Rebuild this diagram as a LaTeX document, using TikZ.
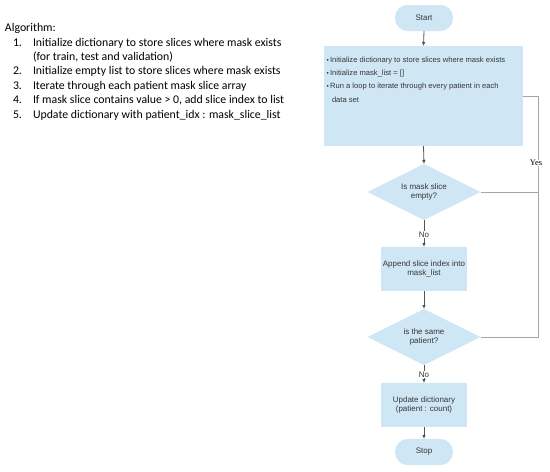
\documentclass[tikz,border=0pt]{standalone}
\usepackage{fontspec}
\setmainfont{Liberation Sans}
\newfontfamily\calib{Carlito}
\newfontfamily\timesf{Liberation Serif}
\usetikzlibrary{arrows.meta,shapes.geometric}
\definecolor{boxfill}{RGB}{207,230,245}
\definecolor{txt}{RGB}{55,55,55}
\definecolor{arr}{RGB}{85,85,85}
\definecolor{loopc}{RGB}{165,165,165}
\begin{document}
\begin{tikzpicture}[x=1pt,y=-1pt,
  every node/.style={text=txt, inner sep=0pt, outer sep=0pt},
  flow/.style={font=\fontsize{8}{9.5}\selectfont, align=center},
  term/.style={flow, fill=boxfill, rounded corners=12.5pt, minimum width=58pt, minimum height=26pt},
  proc/.style={flow, fill=boxfill, minimum width=86pt, minimum height=44pt},
  dec/.style={flow, fill=boxfill, diamond, aspect=2, minimum width=113pt, minimum height=56pt},
  btext/.style={font=\fontsize{7.6}{9}\selectfont, anchor=west},
  alg/.style={font=\calib\fontsize{11.8}{14}\selectfont, anchor=west, text=black},
  arrow/.style={draw=arr, line width=0.8pt, -{Latex[length=4pt,width=3.6pt]}},
  loopline/.style={draw=loopc, line width=0.8pt},
  lbl/.style={flow, fill=white, inner sep=0.8pt}
]
\useasboundingbox (0,0) rectangle (550,472);

% algorithm text
\node[alg] (algt) at (5,28) {Algorithm:};
\node[alg] (n1) at (13,43) {1.};
\node[alg] (t1) at (33,43) {Initialize dictionary to store slices where mask exists};
\node[alg] (t1b) at (33,57) {(for train, test and validation)};
\node[alg] (n2) at (13,71) {2.};
\node[alg] (t2) at (33,71) {Initialize empty list to store slices where mask exists};
\node[alg] (n3) at (13,86) {3.};
\node[alg] (t3) at (33,86) {Iterate through each patient mask slice array};
\node[alg] (n4) at (13,100) {4.};
\node[alg] (t4) at (33,100) {If mask slice contains value > 0, add slice index to list};
\node[alg] (n5) at (13,115) {5.};
\node[alg] (t5) at (33,115) {Update dictionary with patient\_idx : mask\_slice\_list};

% flowchart
\node[term] (start) at (424,18) {Start};
\node[proc, minimum width=199pt, minimum height=100pt] (init) at (423.5,96) {};
\node[btext] (b1) at (326.5,61) {{\fontsize{6.5}{7}\selectfont\textbullet}\,Initialize dictionary to store slices where mask exists};
\node[btext] (b2) at (326.5,74) {{\fontsize{6.5}{7}\selectfont\textbullet}\,Initialize mask\_list = []};
\node[btext] (b3) at (326.5,87) {{\fontsize{6.5}{7}\selectfont\textbullet}\,Run a loop to iterate through every patient in each};
\node[btext] (b4) at (332,100) {data set};
\node[dec] (d1) at (424,192) {Is mask slice\\empty?};
\node[proc] (app) at (424,269) {Append slice index into\\mask\_list};
\node[dec] (d2) at (424,337) {is the same\\patient?};
\node[proc] (upd) at (424,405) {Update dictionary\\(patient : count)};
\node[term] (stop) at (424,452) {Stop};

\coordinate (c1) at (538,96);
\draw[loopline] (init.east) -- (c1) -- (c1 |- d2.east) -- (d2.east);
\draw[loopline] (d1.east) -- (d1.east -| c1);
\node[font=\timesf\fontsize{8.5}{10}\selectfont, text=black, fill=white, inner sep=0.5pt] (yes) at (536,163) {Yes};

\draw[arrow] (start.south) -- (init.north);
\draw[arrow] (init.south) -- (d1.north);
\draw[arrow] (d1.south) -- node[lbl, pos=0.55] (no1) {No} (app.north);
\draw[arrow] (app.south) -- (d2.north);
\draw[arrow] (d2.south) -- node[lbl, pos=0.55] (no2) {No} (upd.north);
\draw[arrow] (upd.south) -- (stop.north);
\end{tikzpicture}
\end{document}
